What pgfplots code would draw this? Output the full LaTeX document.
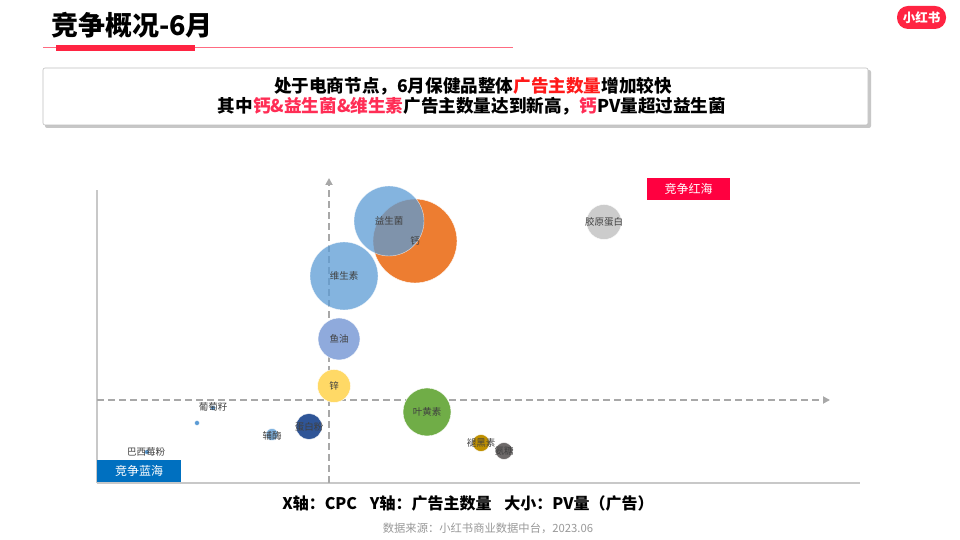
\documentclass[border=0pt]{standalone}
\usepackage{pgfplots}
\pgfplotsset{compat=1.18}
\usepackage{pgfplotstable}
\usepackage{fontspec}
\setmainfont{Noto Sans CJK SC}
\usetikzlibrary{arrows.meta}
\definecolor{xhsred}{HTML}{FF2442}
\definecolor{lineRed}{HTML}{FF6B81}
\definecolor{hiRed}{HTML}{FF1A1A}
\definecolor{hiPink}{HTML}{FF2D55}
\definecolor{boxRed}{HTML}{FF0040}
\definecolor{boxBlue}{HTML}{0070C0}
\definecolor{axisgray}{HTML}{C8C8C8}
\definecolor{dashgray}{HTML}{A8A8A8}
\definecolor{lblgray}{HTML}{404040}
\definecolor{cBlue}{HTML}{5B9BD5}
\definecolor{cOrange}{HTML}{ED7D31}
\definecolor{cFish}{HTML}{8FAADC}
\definecolor{cZinc}{HTML}{FFD966}
\definecolor{cGreen}{HTML}{70AD47}
\definecolor{cGold}{HTML}{BF9000}
\definecolor{cDGray}{HTML}{6E6A6A}
\definecolor{cLGray}{HTML}{CCCCCC}
\definecolor{cNavy}{HTML}{2F5597}
\definecolor{cLBlue}{HTML}{7FB2E0}
\pgfplotstableread{
x    y     label
292  262   益生菌
318  242   钙
247  207   维生素
242  144   鱼油
237  97    锌
330  71    叶黄素
384  40    褪黑素
407  32    氨糖
507  261   胶原蛋白
212  56.5  蛋白粉
175  47    辅酶
116  76    葡萄籽
49   31    巴西莓粉
}\labeltable
\newcommand{\bubble}[5]{\addplot[only marks, mark=*, mark size=#3pt, mark options={fill=#4, draw=white, line width=0.4pt, fill opacity=#5, draw opacity=#5}] coordinates {(#1,#2)};}
\begin{document}
\begin{tikzpicture}[x=1pt,y=1pt]
\path[use as bounding box, fill=white] (0,0) rectangle (960,540);
% logo
\fill[xhsred, rounded corners=11pt] (897,540-6) rectangle (946,540-29);
\node[inner sep=0, text=white, font=\fontsize{12.5}{12.5}\selectfont\bfseries] at (921.5,540-17.5) {小红书};
% title
\node[anchor=west, inner sep=0, font=\fontsize{27}{27}\selectfont\bfseries] at (51,540-25.5) {竞争概况-6月};
\draw[lineRed, line width=1pt] (43,540-48) -- (513,540-48);
\fill[xhsred] (56,540-45) rectangle (195,540-51);
% text box
\fill[black!22, rounded corners=2pt] (45,540-70) rectangle (871,540-128);
\draw[fill=white, draw=black!25, line width=0.6pt, rounded corners=2pt] (43,540-68) rectangle (868,540-125);
\node[inner sep=0, font=\fontsize{17.6}{17.6}\selectfont\bfseries] at (473,540-86) {处于电商节点，6月保健品整体\textcolor{hiRed}{广告主数量}增加较快};
\node[inner sep=0, font=\fontsize{17.6}{17.6}\selectfont\bfseries] at (472,540-106) {其中\textcolor{hiPink}{钙\&益生菌\&维生素}广告主数量达到新高，\textcolor{hiPink}{钙}PV量超过益生菌};
% chart
\begin{axis}[at={(97pt,57pt)}, anchor=south west, scale only axis, width=763pt, height=293pt,
  xmin=0, xmax=763, ymin=0, ymax=293, axis lines*=left, ticks=none,
  axis line style={draw=axisgray, line width=2.5pt}, clip=false]
\draw[dashgray, line width=2pt, dash pattern=on 7pt off 4pt, -{Triangle[length=7pt,width=7pt]}] (axis cs:232,0) -- (axis cs:232,305);
\draw[dashgray, line width=2pt, dash pattern=on 7pt off 4pt, -{Triangle[length=7pt,width=7pt]}] (axis cs:0,83) -- (axis cs:733,83);
\bubble{318}{242}{42}{cOrange}{1}
\bubble{292}{262}{35}{cBlue}{0.75}
\bubble{247}{207}{34}{cBlue}{0.75}
\bubble{242}{144}{21}{cFish}{1}
\bubble{237}{97}{16.5}{cZinc}{1}
\bubble{330}{71}{24}{cGreen}{1}
\bubble{384}{40}{8.5}{cGold}{1}
\bubble{407}{32}{8.5}{cDGray}{1}
\bubble{507}{261}{17.5}{cLGray}{1}
\bubble{212}{56.5}{13}{cNavy}{1}
\bubble{175}{48.5}{6}{cLBlue}{1}
\bubble{116}{75}{2.5}{cBlue}{1}
\bubble{100}{60}{2.5}{cBlue}{1}
\bubble{50}{31}{2.5}{cBlue}{1}
\addplot[draw=none, mark=none, point meta=explicit symbolic,
  nodes near coords={\pgfplotspointmeta},
  every node near coord/.append style={anchor=center, inner sep=0, text=lblgray, font=\fontsize{9.5}{9.5}\selectfont}]
  table[x=x, y=y, meta=label] {\labeltable};
\end{axis}
% region boxes
\fill[boxRed] (647,540-178) rectangle (730,540-200);
\node[inner sep=0, text=white, font=\fontsize{12}{12}\selectfont] at (688.5,540-189) {竞争红海};
\fill[boxBlue] (97,540-460) rectangle (181,540-482);
\node[inner sep=0, text=white, font=\fontsize{12}{12}\selectfont] at (139,540-471) {竞争蓝海};
% footer
\node[inner sep=0, font=\fontsize{16}{16}\selectfont\bfseries] at (468,540-503) {X轴：CPC\hspace{0.8em}Y轴：广告主数量\hspace{0.8em}大小：PV量（广告）};
\node[inner sep=0, text=black!40, font=\fontsize{11.3}{11.3}\selectfont] at (488,540-528) {数据来源：小红书商业数据中台，2023.06};
\end{tikzpicture}
\end{document}
